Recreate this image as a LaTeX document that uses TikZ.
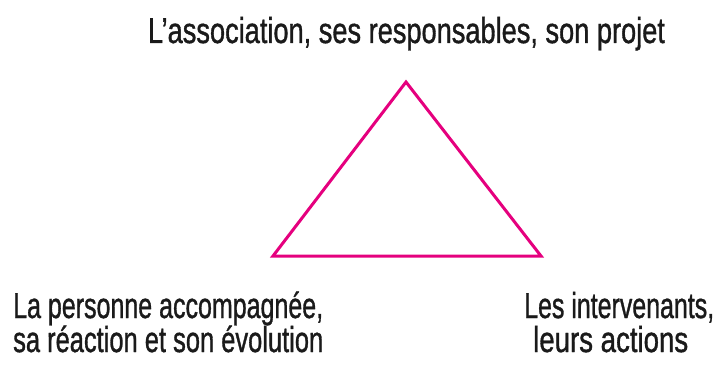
\documentclass[tikz,border=0pt]{standalone}
\usepackage{fontspec}
\setmainfont{Liberation Sans}
\newfontfamily\thickfont[FakeBold=1.2]{Liberation Sans}
\usepackage{graphicx}
\definecolor{trimagenta}{HTML}{E5007E}
\definecolor{textgrey}{HTML}{1A1A1A}
% condensed text: squeeze to a given width, keep the height
\newcommand{\narrowtext}[2]{\resizebox{#1}{\height}{#2}}
\begin{document}
\begin{tikzpicture}[x=1pt,y=1pt]
        \tikzstyle{label}=[inner sep=0pt,text=textgrey,font=\thickfont\fontsize{36}{40}\selectfont]
        \tikzstyle{side}=[draw=trimagenta,line width=3pt,line join=miter]
        \useasboundingbox (0,0) rectangle (717,365);
        % corners of the triangle
        \coordinate (top) at (406,283);
        \coordinate (left) at (273,109);
        \coordinate (right) at (541,109);
        \path[side] (top) -- (left) -- (right) -- cycle;

        % texts
        \node [label,anchor=base] (assoc) at (406.5,322) {\narrowtext{517pt}{L’association, ses responsables, son projet}};
        \node [label,anchor=base west] (pers1) at (13,47) {\narrowtext{310pt}{La personne accompagnée,}};
        \node [label,anchor=base west] (pers2) at (13,13) {\narrowtext{310pt}{sa réaction et son évolution}};
        \node [label,anchor=base west] (interv1) at (524,47) {\narrowtext{190pt}{Les intervenants,}};
        \node [label,anchor=base west] (interv2) at (533,13) {\narrowtext{155pt}{leurs actions}};
\end{tikzpicture}
\end{document}
